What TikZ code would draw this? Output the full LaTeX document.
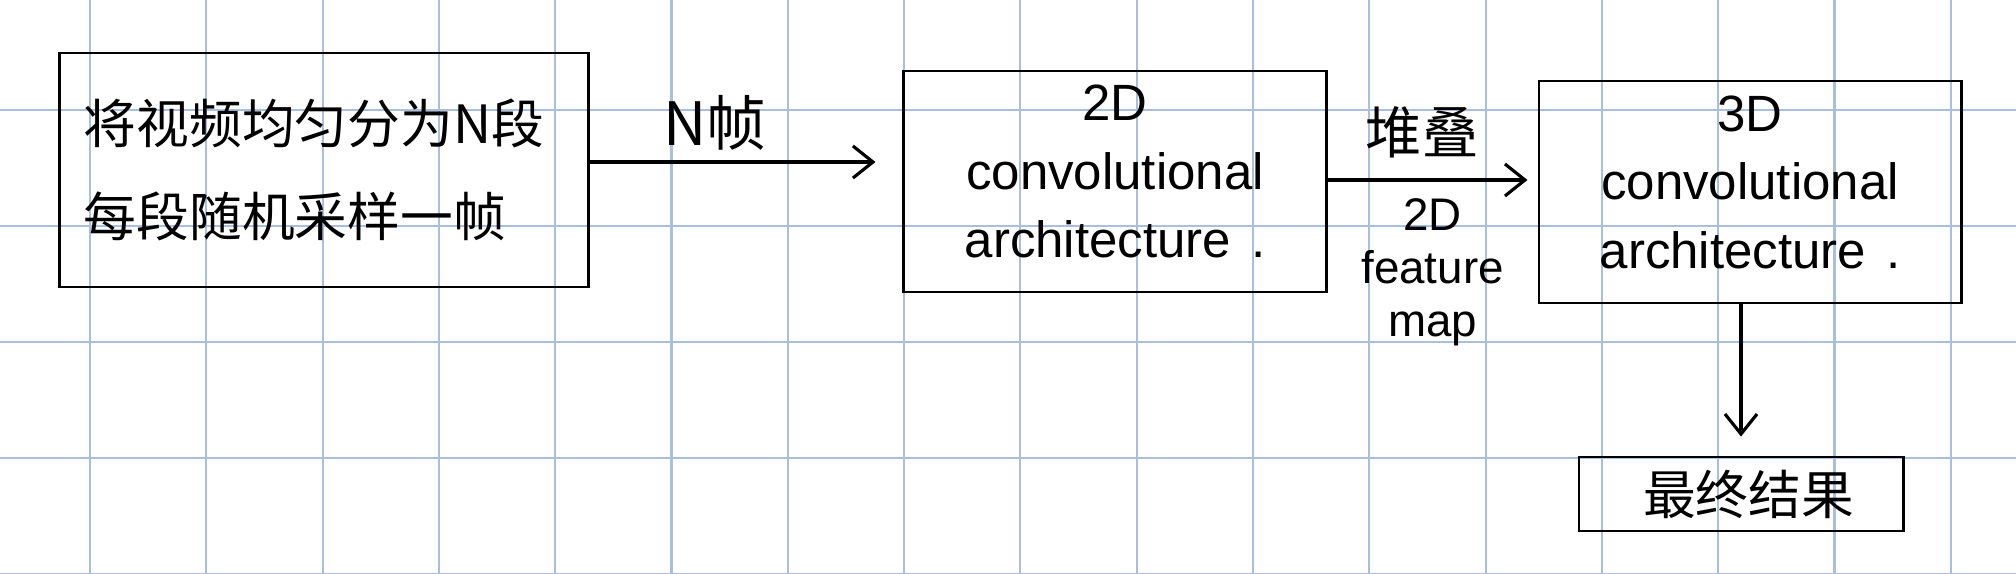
\documentclass[tikz,border=0pt]{standalone}
\usepackage{fontspec}
\setmainfont{Liberation Sans}
\newfontfamily\cjk{Noto Sans CJK SC}
\usetikzlibrary{arrows.meta}
\definecolor{gridblue}{RGB}{170,190,222}
\tikzstyle{stepbox} = [rectangle, draw=black, line width=0.8pt, align=center, inner sep=0pt]
\tikzstyle{convtext} = [font=\fontsize{14.5}{19.5}\selectfont, text depth=0.2cm]
\tikzstyle{arrow} = [line width=0.9pt, -{Straight Barb[length=0.2cm, width=0.32cm]}]

\begin{document}
\begin{tikzpicture}[x=0.01cm, y=-0.01cm]

%% PAPER
\fill[white] (0,0) rectangle (2016,574);
\useasboundingbox (0,0) rectangle (2016,574);
\foreach \i in {0,...,16}
  \draw[gridblue, line width=0.6pt] (90+116.3*\i,0) -- (90+116.3*\i,574);
\foreach \j in {0,...,4}
  \draw[gridblue, line width=0.6pt] (0,110+116*\j) -- (2016,110+116*\j);

%% NODES

\node (split) [stepbox, minimum width=5.28cm, minimum height=2.34cm, text width=4.8cm, align=left, font=\cjk\fontsize{15}{26.5}\selectfont] at (324,170) {将视频均匀分为N段\\每段随机采样一帧};
\node (conv2d) [stepbox, convtext, minimum width=4.22cm, minimum height=2.21cm] at (1115,181.5) {2D\\convolutional\\architecture\hspace{0.2cm}.};
\node (conv3d) [stepbox, convtext, minimum width=4.22cm, minimum height=2.22cm] at (1750,192) {3D\\convolutional\\architecture\hspace{0.2cm}.};
\node (result) [stepbox, minimum width=3.24cm, minimum height=0.74cm, font=\cjk\fontsize{15}{18}\selectfont] at (1741,494) {\hspace{0.15cm}最终结果};

%% ARROWS

\draw [arrow, shorten >=0.27cm] ([yshift=0.08cm]split.east) -- ([yshift=0.08cm]split.east -| conv2d.west)
  node[pos=0.4, above=0.1cm, inner sep=0pt, font=\cjk\fontsize{17}{20}\selectfont] {N帧};
\draw [arrow, shorten >=0.1cm] ([yshift=0.015cm]conv2d.east) -- ([yshift=0.015cm]conv2d.east -| conv3d.west)
  node[pos=0.45, above=0.2cm, inner sep=0pt, font=\cjk\fontsize{16}{19}\selectfont] {堆叠}
  node[pos=0.5, below=0.17cm, inner sep=0pt, align=center, font=\fontsize{13}{15}\selectfont] {2D\\feature\\map};
\draw [arrow, shorten >=0.19cm] (result.north |- conv3d.south) -- (result.north);

\end{tikzpicture}
\end{document}
